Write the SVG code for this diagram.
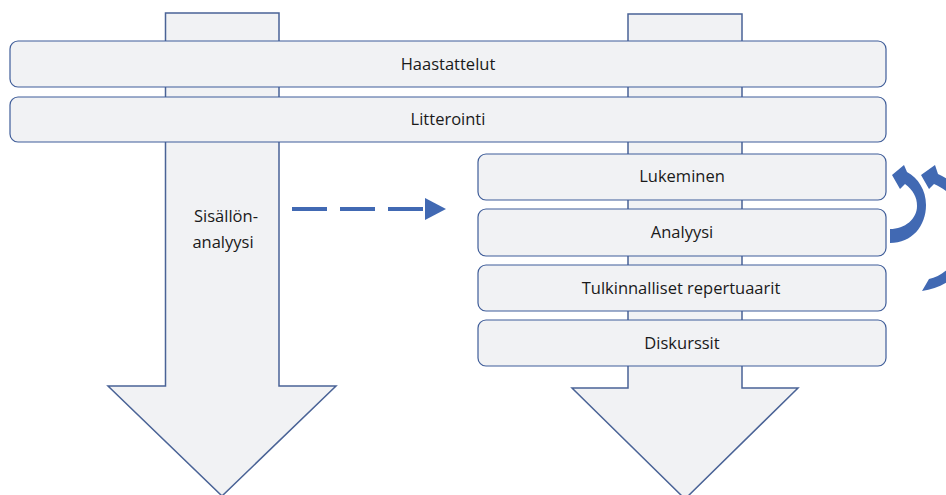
<svg xmlns="http://www.w3.org/2000/svg" width="946" height="495" viewBox="0 0 946 495">
  <style>
    .big { fill: #F1F2F4; stroke: #4A6396; stroke-width: 1.5; }
    .box { fill: #F1F2F4; stroke: #3F5D99; stroke-width: 1.2; }
    .lbl { font-family: "Open Sans", "Liberation Sans", Arial, sans-serif; font-size: 16.5px; fill: #1A1A1A; text-anchor: middle; }
    .blue { fill: #4169B3; }
  </style>

  <!-- large block arrows in the background -->
  <g id="arrow-left">
    <polygon class="big" points="165.5,13 279,13 279,386 336,386 222,496 108,386 165.5,386"/>
  </g>
  <g id="arrow-right">
    <polygon class="big" points="628,14 742,14 742,388 798,388 685,499 572,388 628,388"/>
  </g>

  <!-- stage bars -->
  <g id="haastattelut">
    <rect class="box" x="10" y="41" width="876" height="46" rx="8"/>
    <text class="lbl" x="448" y="70">Haastattelut</text>
  </g>
  <g id="litterointi">
    <rect class="box" x="10" y="97" width="876" height="45" rx="8"/>
    <text class="lbl" x="448" y="125">Litterointi</text>
  </g>
  <g id="sisallonanalyysi">
    <text class="lbl" x="226" y="222">Sisällön-</text>
    <text class="lbl" x="223" y="248">analyysi</text>
  </g>
  <g id="lukeminen">
    <rect class="box" x="478" y="154" width="408" height="46" rx="8"/>
    <text class="lbl" x="682" y="182">Lukeminen</text>
  </g>
  <g id="analyysi">
    <rect class="box" x="478" y="209" width="408" height="47" rx="8"/>
    <text class="lbl" x="682" y="238">Analyysi</text>
  </g>
  <g id="tulkinnalliset">
    <rect class="box" x="478" y="265" width="408" height="46" rx="8"/>
    <text class="lbl" x="681" y="294">Tulkinnalliset repertuaarit</text>
  </g>
  <g id="diskurssit">
    <rect class="box" x="478" y="320" width="408" height="46" rx="8"/>
    <text class="lbl" x="682" y="349">Diskurssit</text>
  </g>

  <!-- connectors -->
  <g id="connectors">
    <line x1="292" y1="209" x2="426" y2="209" stroke="#4169B3" stroke-width="4" stroke-dasharray="35 13"/>
    <polygon class="blue" points="425,198 446,209 425,220"/>
    <path class="blue" d="M 890,243 C 912,243 926,226 926,205 C 926,190 918,178 907,172 L 904,165 L 892,175 L 900,189 L 905,184 C 913,190 917,197 917,206 C 917,219 905,229 890,229 Z"/>
    <path class="blue" d="M 922,291 C 952,287 976,262 976,232 C 976,205 958,183 938,174 L 935,165 L 921,175 L 929,189 L 934,184 C 953,192 965,210 965,232 C 965,255 947,275 929,279 Z"/>
  </g>
</svg>
